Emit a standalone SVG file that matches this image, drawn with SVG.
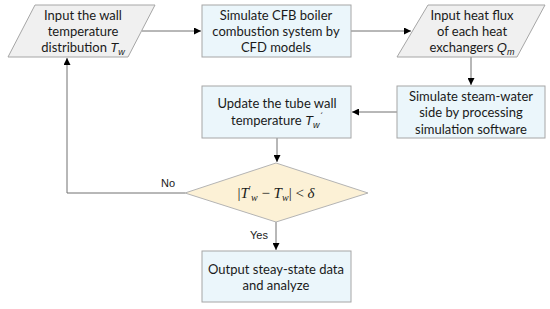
<svg xmlns="http://www.w3.org/2000/svg" width="550" height="309" viewBox="0 0 550 309">
<defs>
<style>
.box{fill:#ebf6fb;stroke:#a6a6a6;stroke-width:1}
.io{fill:#f0f0f0;stroke:#a6a6a6;stroke-width:1}
.dec{fill:#fcf1d6;stroke:#b4b4b4;stroke-width:1}
.t{font-family:Lato,"Liberation Sans",sans-serif;font-size:13px;fill:#1a1a1a;text-anchor:middle}
.it{font-family:"Liberation Sans",Arial,sans-serif;font-style:italic}
.lbl{font-family:"Liberation Sans",Arial,sans-serif;font-size:11px;fill:#1a1a1a;text-anchor:middle}
.m{font-family:"Liberation Serif","DejaVu Serif",serif;font-size:15px;fill:#1a1a1a;text-anchor:middle}
.c{fill:none;stroke:#707070;stroke-width:1}
</style>
<marker id="ah" viewBox="0 0 10 10" refX="10" refY="5" markerWidth="7" markerHeight="7" markerUnits="userSpaceOnUse" orient="auto">
<path d="M0,0 L10,5 L0,10 z" fill="#000"/>
</marker>
</defs>
<rect width="550" height="309" fill="#fff"/>
<g id="connectors">
<path class="c" d="M142,31 H201" marker-end="url(#ah)"/>
<path class="c" d="M351,31 H411" marker-end="url(#ah)"/>
<path class="c" d="M471,57 V85" marker-end="url(#ah)"/>
<path class="c" d="M397,112 H352" marker-end="url(#ah)"/>
<path class="c" d="M277,138 V162" marker-end="url(#ah)"/>
<path class="c" d="M185,193 H67 V58" marker-end="url(#ah)"/>
<path class="c" d="M276,222 V250" marker-end="url(#ah)"/>
<text class="lbl" x="168" y="187">No</text>
<text class="lbl" x="259" y="239">Yes</text>
</g>
<g id="n1">
<polygon class="io" points="35,5 155,5 128,57 8,57"/>
<text class="t" x="83" y="20">Input the wall</text>
<text class="t" x="83" y="36">temperature</text>
<text class="t" x="83" y="52">distribution <tspan class="it">T</tspan><tspan class="it" font-size="9" dy="3">w</tspan></text>
</g>
<g id="n2">
<rect class="box" x="202" y="5" width="149" height="52"/>
<text class="t" x="276" y="20">Simulate CFB boiler</text>
<text class="t" x="276" y="36">combustion system by</text>
<text class="t" x="276" y="52">CFD models</text>
</g>
<g id="n3">
<polygon class="io" points="428,5 545,5 517,57 397,57"/>
<text class="t" x="472" y="20">Input heat flux</text>
<text class="t" x="472" y="36">of each heat</text>
<text class="t" x="472" y="52">exchangers <tspan class="it">Q</tspan><tspan class="it" font-size="9" dy="3">m</tspan></text>
</g>
<g id="n4">
<rect class="box" x="202" y="86" width="149" height="52"/>
<text class="t" x="277" y="108">Update the tube wall</text>
<text class="t" x="277" y="125">temperature <tspan class="it">T</tspan><tspan class="it" font-size="9" dy="3">w</tspan><tspan font-size="9" dy="-8">´</tspan></text>
</g>
<g id="n5">
<rect class="box" x="397" y="86" width="148" height="52"/>
<text class="t" x="471" y="101">Simulate steam-water</text>
<text class="t" x="471" y="117">side by processing</text>
<text class="t" x="471" y="134">simulation software</text>
</g>
<g id="n6">
<polygon class="dec" points="276,163 368,193 276,222 185,193"/>
<text class="m" x="276" y="198">|<tspan font-style="italic">T</tspan><tspan font-size="10" dy="-5">′</tspan><tspan font-style="italic" font-size="10" dy="8">w</tspan><tspan dy="-3"> − </tspan><tspan font-style="italic">T</tspan><tspan font-style="italic" font-size="10" dy="3">w</tspan><tspan dy="-3">| &lt; </tspan><tspan font-style="italic">δ</tspan></text>
</g>
<g id="n7">
<rect class="box" x="202" y="251" width="149" height="51"/>
<text class="t" x="276" y="274">Output steay-state data</text>
<text class="t" x="276" y="290">and analyze</text>
</g>
</svg>
